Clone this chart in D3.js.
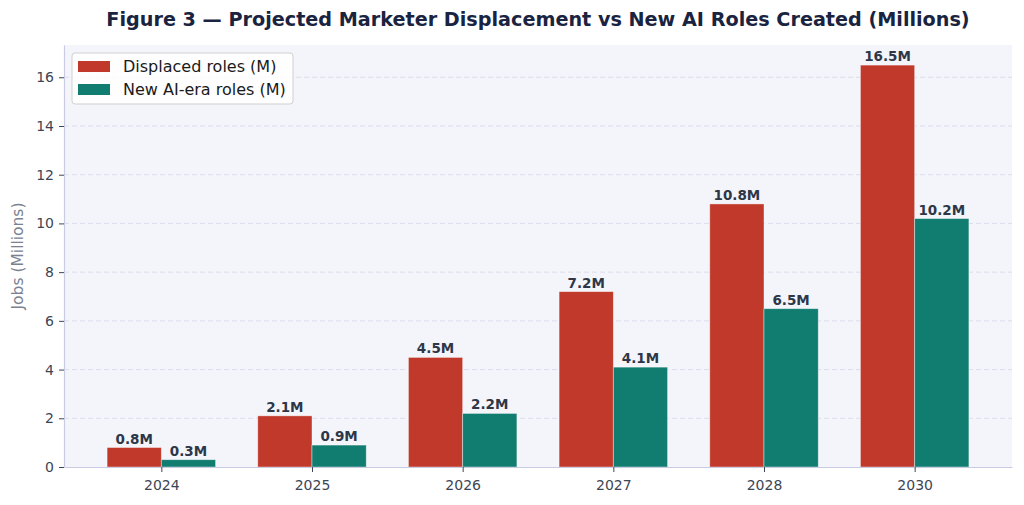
<!DOCTYPE html>
<html>
<head>
<meta charset="utf-8">
<script src="https://cdn.jsdelivr.net/npm/d3@7"></script>
<style>
  body { margin: 0; background: #ffffff; }
  svg { display: block; font-family: "DejaVu Sans", sans-serif; }
</style>
</head>
<body>
<div id="chart"></div>
<script>
// chart data
var years = ["2024", "2025", "2026", "2027", "2028", "2030"];
var displaced = [0.8, 2.1, 4.5, 7.2, 10.8, 16.5];
var newRoles = [0.3, 0.9, 2.2, 4.1, 6.5, 10.2];
var seriesNames = ["Displaced roles (M)", "New AI-era roles (M)"];
var yTicks = [0, 2, 4, 6, 8, 10, 12, 14, 16];

var width = 1024, height = 505;
var margin = {top: 45, right: 12, bottom: 38, left: 64};
var colors = ["#c0392b", "#117c70"];
var barW = 0.36;

var svg = d3.select("#chart").append("svg")
    .attr("width", width)
    .attr("height", height);

// x as a linear scale over category index, like matplotlib
var x = d3.scaleLinear()
    .domain([-0.646, years.length - 1 + 0.646])
    .range([margin.left, width - margin.right]);
var y = d3.scaleLinear()
    .domain([0, 16.5 * 1.05])
    .range([height - margin.bottom, margin.top]);

svg.append("rect")
    .attr("x", margin.left).attr("y", margin.top)
    .attr("width", width - margin.left - margin.right)
    .attr("height", height - margin.top - margin.bottom)
    .attr("fill", "#f4f5fb");

// grid
svg.append("g").selectAll("line")
    .data(yTicks.filter(function(d) { return d > 0; }))
    .enter().append("line")
    .attr("x1", margin.left).attr("x2", width - margin.right)
    .attr("y1", function(d) { return y(d); })
    .attr("y2", function(d) { return y(d); })
    .attr("stroke", "#dcdcec")
    .attr("stroke-width", 1)
    .attr("stroke-dasharray", "5,3");

var data = [displaced, newRoles];
data.forEach(function(vals, s) {
    var off = s === 0 ? -barW : 0;
    var g = svg.append("g");
    g.selectAll("rect")
        .data(vals)
        .enter().append("rect")
        .attr("x", function(d, i) { return x(i + off); })
        .attr("width", x(barW) - x(0))
        .attr("y", function(d) { return y(d); })
        .attr("height", function(d) { return y(0) - y(d); })
        .attr("fill", colors[s])
        .attr("stroke", "#ffffff")
        .attr("stroke-opacity", 0.5)
        .attr("stroke-width", 0.8);
    g.selectAll("text")
        .data(vals)
        .enter().append("text")
        .attr("x", function(d, i) { return x(i + off + barW / 2); })
        .attr("y", function(d) { return y(d) - 4; })
        .attr("text-anchor", "middle")
        .attr("font-size", "13.5px")
        .attr("font-weight", "bold")
        .attr("fill", "#2d3748")
        .text(function(d) { return d.toFixed(1) + "M"; });
});

// axes
var xAxis = d3.axisBottom(x)
    .tickValues(d3.range(years.length))
    .tickFormat(function(d) { return years[d]; })
    .tickSize(5).tickSizeOuter(0);
var yAxis = d3.axisLeft(y)
    .tickValues(yTicks)
    .tickSize(5).tickSizeOuter(0);

var gx = svg.append("g")
    .attr("transform", "translate(0," + (height - margin.bottom) + ")")
    .call(xAxis);
var gy = svg.append("g")
    .attr("transform", "translate(" + margin.left + ",0)")
    .call(yAxis);

[gx, gy].forEach(function(g) {
    g.select(".domain").attr("stroke", "#c9cbe3").attr("stroke-width", 1.2);
    g.selectAll(".tick line").attr("stroke", "#3d4555");
    g.selectAll(".tick text")
        .attr("font-family", "DejaVu Sans, sans-serif")
        .attr("font-size", "14px")
        .attr("fill", "#3d4555");
});
gx.selectAll(".tick text").attr("dy", "1.05em");
gy.selectAll(".tick text").attr("dx", "-2");

svg.append("text")
    .attr("transform", "translate(23," + (margin.top + (height - margin.bottom - margin.top) / 2) + ") rotate(-90)")
    .attr("text-anchor", "middle")
    .attr("font-size", "15.5px")
    .attr("fill", "#7a8292")
    .text("Jobs (Millions)");

svg.append("text")
    .attr("x", 538).attr("y", 26)
    .attr("text-anchor", "middle")
    .attr("font-size", "19.2px")
    .attr("font-weight", "bold")
    .attr("fill", "#1a2340")
    .text("Figure 3 \u2014 Projected Marketer Displacement vs New AI Roles Created (Millions)");

// legend
var leg = svg.append("g").attr("transform", "translate(72,53)");
leg.append("rect")
    .attr("width", 221).attr("height", 51)
    .attr("rx", 3)
    .attr("fill", "#ffffff").attr("fill-opacity", 0.85)
    .attr("stroke", "#d0d0d0");
seriesNames.forEach(function(name, i) {
    leg.append("rect")
        .attr("x", 6).attr("y", 8 + i * 23)
        .attr("width", 32).attr("height", 11)
        .attr("fill", colors[i]);
    leg.append("text")
        .attr("x", 51).attr("y", 19 + i * 23)
        .attr("font-size", "16px")
        .attr("fill", "#1a1a1a")
        .text(name);
});
</script>
</body>
</html>
